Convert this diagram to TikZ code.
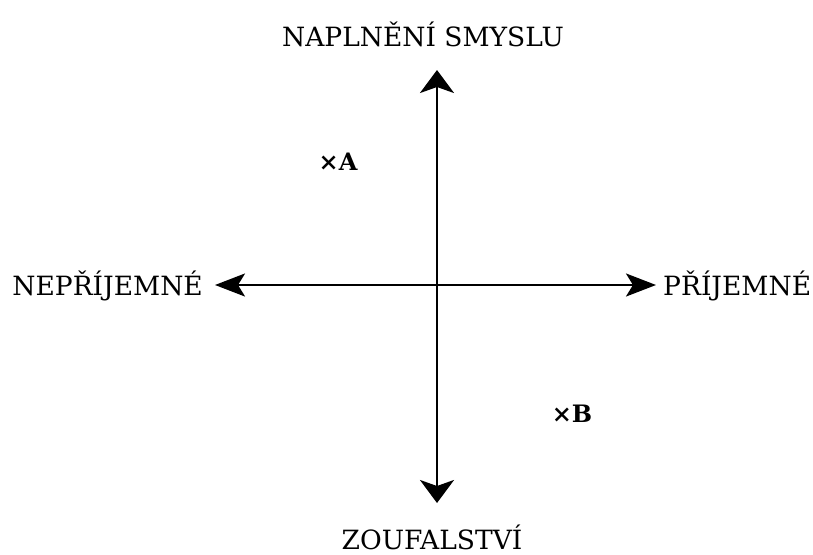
\documentclass[tikz,border=0pt]{standalone}
\usepackage{fontspec}
\setmainfont{DejaVu Serif}
\usetikzlibrary{arrows.meta}

\begin{document}
\begin{tikzpicture}[x=1pt, y=-1pt,
    axislabel/.style={inner sep=0pt, font=\fontsize{26.5}{30}\selectfont},
    pointmark/.style={inner sep=0pt, font=\fontsize{24}{27}\selectfont\bfseries},
    haxis/.style={line width=2.6pt, {Stealth[length=30pt, width=23pt, inset=7pt]}-{Stealth[length=30pt, width=23pt, inset=7pt]}},
    vaxis/.style={line width=2.6pt, {Stealth[length=23pt, width=34pt, inset=6pt]}-{Stealth[length=23pt, width=34pt, inset=6pt]}}]
    \useasboundingbox (0,0) rectangle (813,554);
    \coordinate (left) at (215,285);
    \coordinate (right) at (656,285);
    \coordinate (top) at (437,70);
    \coordinate (bottom) at (437,503);
        \draw[haxis] (left) -- (right);
        \draw[vaxis] (bottom) -- (top);
    \node[axislabel, anchor=east] (nepr) at (203,286) {NEPŘÍJEMNÉ};
    \node[axislabel, anchor=west] (prij) at (663,286) {PŘÍJEMNÉ};
    \node[axislabel] (smysl) at (423,34) {NAPLNĚNÍ SMYSLU};
    \node[axislabel] (zoufal) at (432,537) {ZOUFALSTVÍ};
    \node[pointmark] (A) at (338,162) {×A};
    \node[pointmark] (B) at (572,414) {×B};
\end{tikzpicture}
\end{document}
